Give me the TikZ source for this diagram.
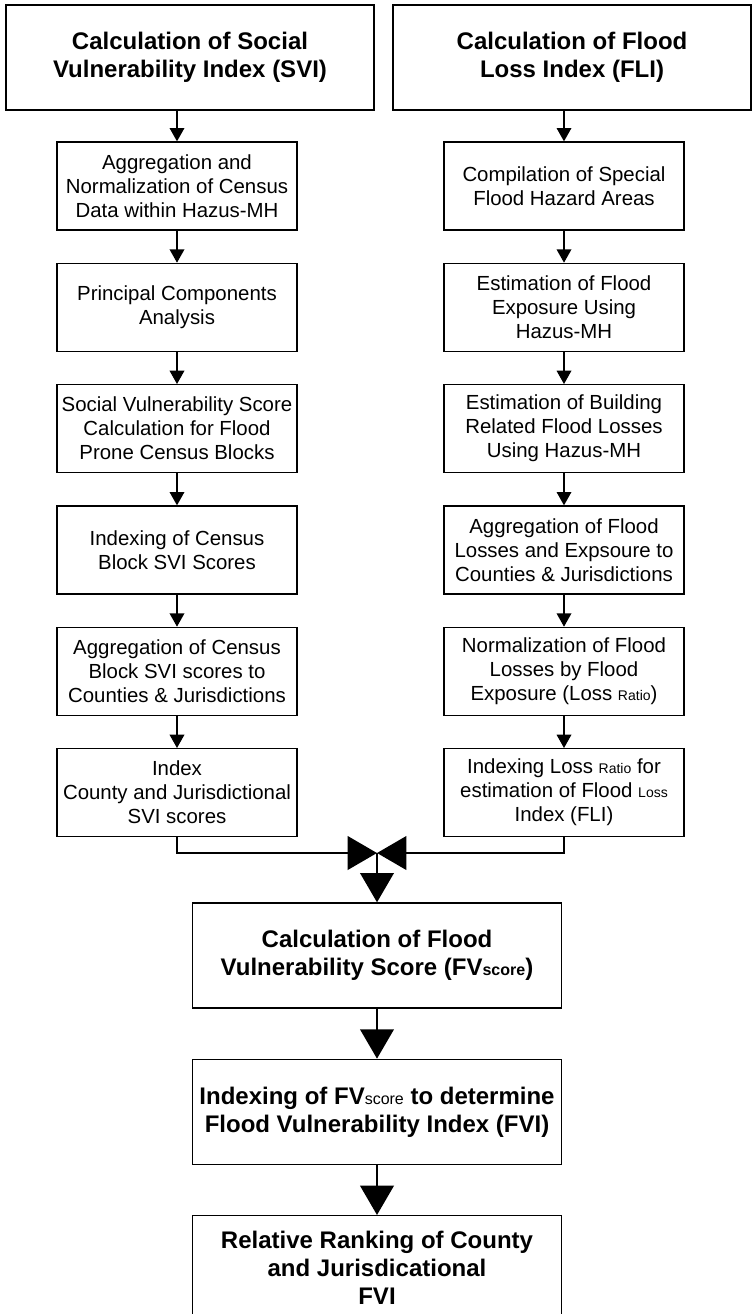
\documentclass[tikz,border=0pt]{standalone}
\usepackage{fontspec}
\setmainfont{Liberation Sans}
\usetikzlibrary{arrows.meta,positioning}
\tikzset{
    header/.style={rectangle,draw,line width=1pt,align=center,inner sep=2pt,
        font=\fontsize{18pt}{21pt}\selectfont\bfseries,minimum height=78.75pt},
    stepbox/.style={rectangle,draw,line width=1pt,align=center,inner sep=2pt,
        font=\fontsize{15.3pt}{18pt}\selectfont,minimum width=180pt,minimum height=66pt},
    result/.style={header,minimum width=276.75pt},
    flecha/.style={draw,line width=1pt,-{Triangle[length=10pt,width=11pt]}},
    flechagrande/.style={draw,line width=2.2pt,-{Triangle[length=22pt,width=25pt]}},
}
\newcommand{\smalltext}[1]{{\fontsize{10.5pt}{12pt}\selectfont #1}}

\begin{document}
\begin{tikzpicture}[x=0.75pt,y=-0.75pt]
    \clip (0,0) rectangle (753,1314);
    % headers
    \node [header,minimum width=276pt] (svi) at (190,57.5) {Calculation of Social\\Vulnerability Index (SVI)};
    \node [header,minimum width=268.5pt] (fli) at (572,57.5) {Calculation of Flood\\Loss Index (FLI)};
    % SVI column
    \node [stepbox] (agg) at (177,186) {Aggregation and\\Normalization of Census\\Data within Hazus-MH};
    \node [below=24pt of agg,stepbox] (pca) {Principal Components\\Analysis};
    \node [below=24pt of pca,stepbox] (score) {Social Vulnerability Score\\Calculation for Flood\\Prone Census Blocks};
    \node [below=24pt of score,stepbox] (idx) {Indexing of Census\\Block SVI Scores};
    \node [below=24pt of idx,stepbox] (aggsvi) {Aggregation of Census\\Block SVI scores to\\Counties \& Jurisdictions};
    \node [below=24pt of aggsvi,stepbox] (county) {Index\\County and Jurisdictional\\SVI scores};
    % FLI column
    \node [stepbox] (sfha) at (564,186) {Compilation of Special\\Flood Hazard Areas};
    \node [below=24pt of sfha,stepbox] (expo) {Estimation of Flood\\Exposure Using\\Hazus-MH};
    \node [below=24pt of expo,stepbox] (loss) {Estimation of Building\\Related Flood Losses\\Using Hazus-MH};
    \node [below=24pt of loss,stepbox] (aggloss) {Aggregation of Flood\\Losses and Expsoure to\\Counties \& Jurisdictions};
    \node [below=24pt of aggloss,stepbox] (ratio) {Normalization of Flood\\Losses by Flood\\Exposure (Loss \smalltext{Ratio})};
    \node [below=24pt of ratio,stepbox] (flidx) {Indexing Loss \smalltext{Ratio} for\\estimation of Flood \smalltext{Loss}\\Index (FLI)};
    % combined steps
    \node [result] (fvs) at (377,955.5) {Calculation of Flood\\Vulnerability Score (FV{\fontsize{12pt}{12pt}\selectfont score})};
    \node [below=37.5pt of fvs,result] (fvi) {Indexing of FV{\mdseries\fontsize{12pt}{12pt}\selectfont score} to determine\\Flood Vulnerability Index (FVI)};
    \node [below=37.5pt of fvi,result] (rank) {Relative Ranking of County\\and Jurisdicational\\FVI};
    \coordinate (join) at (377,853);
    % arrows
    \path [flecha] (svi.south -| agg) -- (agg);
    \path [flecha] (agg) -- (pca);
    \path [flecha] (pca) -- (score);
    \path [flecha] (score) -- (idx);
    \path [flecha] (idx) -- (aggsvi);
    \path [flecha] (aggsvi) -- (county);
    \path [flecha] (fli.south -| sfha) -- (sfha);
    \path [flecha] (sfha) -- (expo);
    \path [flecha] (expo) -- (loss);
    \path [flecha] (loss) -- (aggloss);
    \path [flecha] (aggloss) -- (ratio);
    \path [flecha] (ratio) -- (flidx);
    \path [flechagrande] (county) |- (join);
    \path [flechagrande] (flidx) |- (join);
    \path [flechagrande] (join) -- (fvs);
    \path [flechagrande] (fvs) -- (fvi);
    \path [flechagrande] (fvi) -- (rank);
\end{tikzpicture}
\end{document}
